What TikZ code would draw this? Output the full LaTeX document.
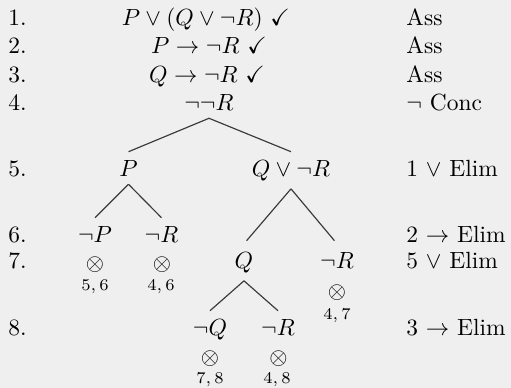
\documentclass[tikz,border=0pt]{standalone}
\usepackage{amssymb}
\definecolor{cFondo}{HTML}{EFEFEF}
\definecolor{cRama}{HTML}{3A3A3A}

\begin{document}
\begin{tikzpicture}[
    x=0.015cm, y=-0.015cm,
    fml/.style={anchor=base, inner sep=3.33pt},
    num/.style={anchor=base west, inner sep=0pt},
    just/.style={anchor=base west, inner sep=0pt},
    cierre/.style={anchor=base, inner sep=0pt},
    refs/.style={anchor=base, inner sep=0pt, font=\scriptsize},
    rama/.style={draw=cRama, line width=0.5pt},
]

% ----- Fondo y margenes -----
\fill[cFondo] (0,0) rectangle (511,388);
\useasboundingbox (0,0) rectangle (511,388);

% ----- Numeros de linea y justificaciones -----
\foreach \y/\n/\t in {25/1/Ass, 53/2/Ass, 82/3/Ass, 110/4/$\neg$ Conc,
                      176/5/1 $\vee$ Elim, 242/6/2 $\to$ Elim,
                      268/7/5 $\vee$ Elim, 335/8/3 $\to$ Elim} {
    \node[num] (n\n) at (8,\y) {\n.};
    \node[just] (j\n) at (406,\y) {\t};
}

% ----- Tronco: premisas y conclusion negada -----
\node[fml] (f1) at (206,25) {$P \vee (Q \vee \neg R)\ \checkmark$};
\node[fml] (f2) at (209,53) {$P \to \neg R\ \checkmark$};
\node[fml] (f3) at (207,82) {$Q \to \neg R\ \checkmark$};
\node[fml] (f4) at (209,110) {$\neg\neg R$};

% ----- Ramas -----
\node[fml] (p5)  at (128.5,176) {$P$};
\node[fml] (qr5) at (291,176)   {$Q \vee \neg R$};
\node[fml] (np6) at (95,242)    {$\neg P$};
\node[fml] (nr6) at (161.5,242) {$\neg R$};
\node[fml] (q7)  at (244,268)   {$Q$};
\node[fml] (nr7) at (337,268)   {$\neg R$};
\node[fml] (nq8) at (210,335)   {$\neg Q$};
\node[fml] (nr8) at (278,335)   {$\neg R$};

\draw[rama] (f4.south) -- (p5.north);
\draw[rama] (f4.south) -- (qr5.north);
\draw[rama] (p5.south) -- (np6.north);
\draw[rama] (p5.south) -- (nr6.north);
\draw[rama, shorten >=1.7pt] (qr5.south) -- (q7.north);
\draw[rama, shorten >=1.7pt] (qr5.south) -- (nr7.north);
\draw[rama] (q7.south) -- (nq8.north);
\draw[rama] (q7.south) -- (nr8.north);

% ----- Ramas cerradas -----
\node[cierre] (x6a) at (95,270)    {$\otimes$};
\node[cierre] (x6b) at (162,270)   {$\otimes$};
\node[cierre] (x7)  at (337,298)   {$\otimes$};
\node[cierre] (x8a) at (210,364)   {$\otimes$};
\node[cierre] (x8b) at (278.5,364) {$\otimes$};

\node[refs] (r6a) at (95,290)  {$5,6$};
\node[refs] (r6b) at (161,290) {$4,6$};
\node[refs] (r7)  at (337,319) {$4,7$};
\node[refs] (r8a) at (210,383) {$7,8$};
\node[refs] (r8b) at (277,383) {$4,8$};

\end{tikzpicture}
\end{document}
